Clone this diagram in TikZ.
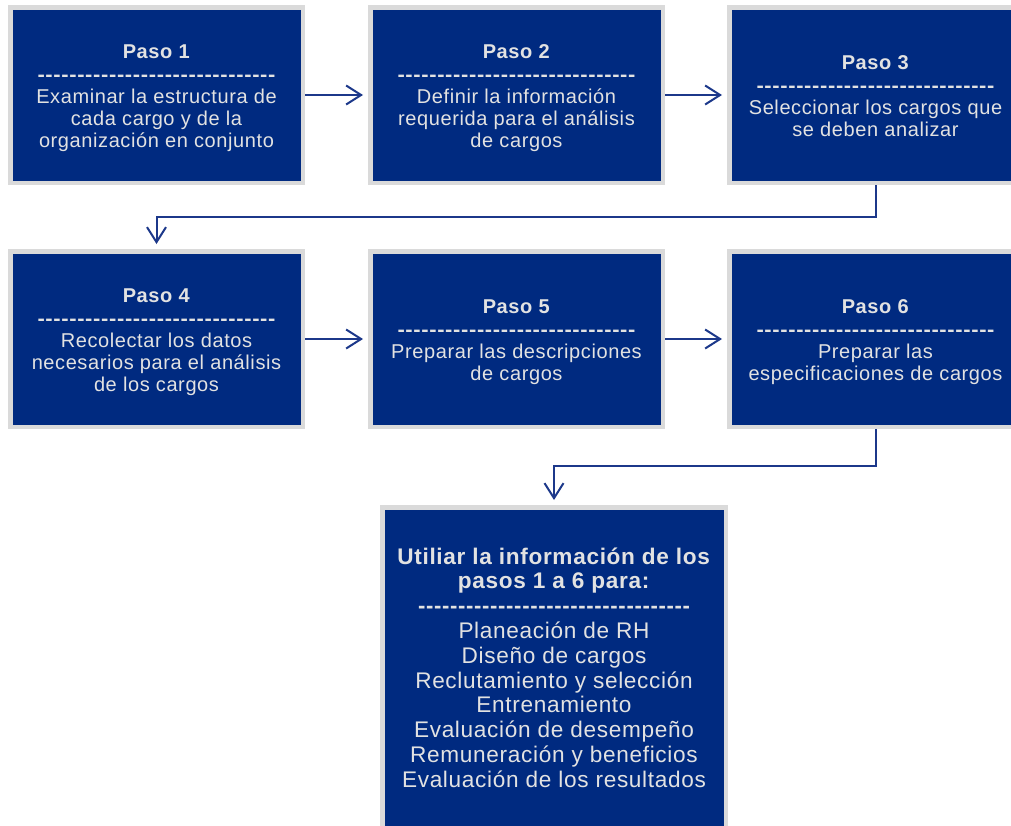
\documentclass[tikz,border=0pt]{standalone}
\usepackage{fontspec}
\usepackage{graphicx}
\usetikzlibrary{arrows.meta}
\newfontfamily\lib{Liberation Sans}[LetterSpace=3]
\definecolor{navy}{RGB}{0,42,128}
\definecolor{boxgray}{RGB}{218,218,218}
\definecolor{txt}{RGB}{226,226,226}
\definecolor{linkblue}{RGB}{28,56,138}
% a row of bold hyphens stretched to a given width
\newcommand\dashrow[2]{\resizebox{#1}{\height}{\bfseries #2}}
% fixed top and bottom struts so that every box places its lines the same way
\newcommand\lstop{\rule{0pt}{23.5pt}}
\newcommand\lsbot{\rule[-6.8pt]{0pt}{6.8pt}}
\tikzset{
  stepbox/.style={draw=boxgray, line width=4.5pt, fill=navy, text=txt,
    minimum width=292.5pt, minimum height=175.5pt, inner sep=0pt, align=center,
    font=\lib\fontsize{20}{22.3}\selectfont},
  finalbox/.style={stepbox, minimum width=343.5pt, minimum height=320.5pt,
    font=\lib\fontsize{22.6}{24.8}\selectfont},
  conn/.style={draw=linkblue, line width=2pt,
    -{Straight Barb[length=15pt,width=19pt]}, shorten >=5pt}
}
\begin{document}
\begin{tikzpicture}[x=1pt,y=-1pt]
\useasboundingbox (0,0) rectangle (1011,825);
\clip (0,0) rectangle (1011,825);
\node[stepbox] (b1) at (156.5,95) {\lstop\textbf{Paso 1}\\\dashrow{238pt}{------------------------------}\\Examinar la estructura de\\cada cargo y de la\\organización en conjunto\lsbot};
\node[stepbox] (b2) at (516.5,95) {\lstop\textbf{Paso 2}\\\dashrow{238pt}{------------------------------}\\Definir la información\\requerida para el análisis\\de cargos\lsbot};
\node[stepbox] (b3) at (875.5,95) {\lstop\textbf{Paso 3}\\\dashrow{238pt}{------------------------------}\\Seleccionar los cargos que\\se deben analizar\lsbot};
\node[stepbox] (b4) at (156.5,339) {\lstop\textbf{Paso 4}\\\dashrow{238pt}{------------------------------}\\Recolectar los datos\\necesarios para el análisis\\de los cargos\lsbot};
\node[stepbox] (b5) at (516.5,339) {\lstop\textbf{Paso 5}\\\dashrow{238pt}{------------------------------}\\Preparar las descripciones\\de cargos\lsbot};
\node[stepbox] (b6) at (875.5,339) {\lstop\textbf{Paso 6}\\\dashrow{238pt}{------------------------------}\\Preparar las\\especificaciones de cargos\lsbot};
\node[finalbox] (b7) at (554,667.5) {\textbf{Utiliar la información de los}\\\textbf{pasos 1 a 6 para:}\\\dashrow{272pt}{----------------------------------}\\Planeación de RH\\Diseño de cargos\\Reclutamiento y selección\\Entrenamiento\\Evaluación de desempeño\\Remuneración y beneficios\\Evaluación de los resultados};
\draw[conn] (b1) -- (b2);
\draw[conn] (b2) -- (b3);
\draw[conn] (b4) -- (b5);
\draw[conn] (b5) -- (b6);
\draw[conn] (b3.south) -- ++(0,32) -| (b4.north);
\draw[conn] (b6.south) -- ++(0,37) -| (b7.north);
\end{tikzpicture}
\end{document}
